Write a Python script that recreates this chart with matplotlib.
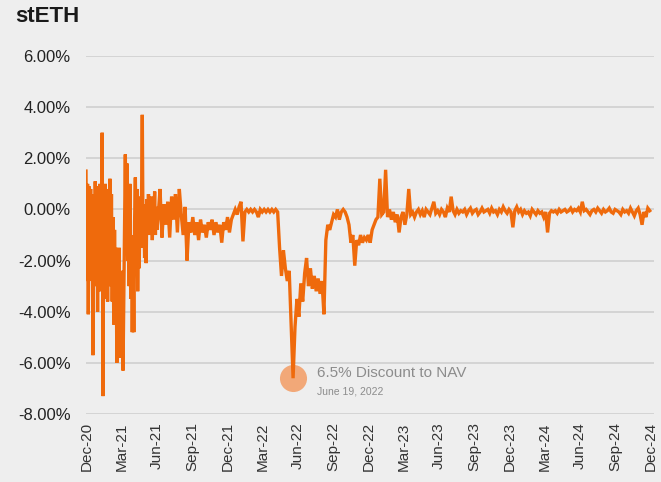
import numpy as np
import pandas as pd
import matplotlib
matplotlib.use("Agg")
import matplotlib.pyplot as plt

plt.rcParams['font.family'] = ['Liberation Sans', 'DejaVu Sans']

# stETH discount / premium to NAV (%)
# early period, every 2 days
early_start = "2020-12-28"
early_vals = [
    1.5, -2.8, 1.0, -4.1, 0.9, -1.5, 0.8, -2.8, 0.5, -5.7,
    0.6, -3.0, 1.1, -1.5, 0.4, -4.0, 0.9, -2.5, 1.0, -3.2,
    0.2, 3.0, -7.3, 0.2, -3.5, 1.0, -2.0, 0.3, -3.6, 0.8,
    -2.4, 1.2, -3.0, 0.6, -3.6, -0.3, -4.5, -0.8, -3.8, -1.5,
    -6.0, -2.0, -4.2, -1.5, -5.8, -2.5, -5.2, -2.4, -6.3, -3.5,
    -1.0, 2.15, -1.5, 1.8, -2.0, 0.5, -3.0, 1.0, -3.5, -1.0,
    -4.8, -1.5, -4.8, -0.5, 1.25, -2.0, 0.8, -3.2, -0.5, -2.3,
    0.5, -1.0, 0.3, 3.7, -1.5, 0.0, -1.9, 0.2, -2.1, 0.4,
    -0.6, 0.6, -1.0, 0.2, -0.7, 0.5, -1.2, 0.3, -0.5, 0.7,
    -1.0, 0.1, -0.8,
]

# rest of the period, every 5 days
late_start = "2021-07-03"
late_vals = [
    -0.3, 0.8, -1.1, 0.2, -0.6, 0.3, -1.1, 0.5, -0.4, 0.6,
    -0.9, 0.8, -0.2, -1.0, 0.1, -2.0, -0.5, -0.9, -0.3, -1.0,
    -0.5, -1.2, -0.4, -0.9, -0.6, -1.1, -0.5, -0.8, -0.4, -1.0,
    -0.5, -0.9, -0.6, -1.3, -0.5, -0.8, -0.3, -0.9, -0.4, -0.2,
    0.0, -0.2, 0.1, 0.3, -1.25, -0.1, 0.0, -0.1, 0.0, -0.1,
    0.0, -0.1, -0.3, 0.0, -0.1, 0.0, -0.1, 0.0, -0.1, 0.0,
    -0.1, 0.0, -0.1, -1.5, -2.6, -1.6, -2.3, -2.8, -2.4, -4.5,
    -6.6, -4.6, -3.5, -4.2, -2.9, -3.6, -2.5, -1.9, -3.0, -2.3,
    -3.1, -2.6, -3.2, -2.7, -3.3, -2.8, -4.1, -1.2, -0.6, -0.8,
    -0.5, -0.2, -0.3, 0.0, -0.4, -0.1, 0.0, -0.1, -0.3, -0.6,
    -1.3, -1.0, -2.2, -1.2, -1.4, -1.0, -1.3, -1.1, -1.2, -1.0,
    -1.3, -0.8, -0.6, -0.4, -0.3, 1.2, -0.2, -0.1, 1.55, -0.3,
    0.0, -0.4, -0.1, -0.5, -0.2, -0.9, -0.3, -0.1, -0.6, -0.2,
    0.8, -0.2, -0.1, -0.3, -0.1, 0.0, -0.2, -0.05, -0.3, 0.0,
    -0.1, -0.2, 0.05, 0.3, -0.15, -0.05, -0.2, 0.0, -0.1, -0.3,
    0.05, -0.1, 0.5, -0.05, -0.2, 0.0, -0.15, -0.05, -0.1, 0.0,
    -0.2, -0.05, 0.05, -0.15, -0.05, 0.0, -0.2, -0.1, 0.05, -0.1,
    -0.05, 0.0, -0.15, 0.05, -0.1, -0.05, -0.2, 0.0, -0.1, 0.1,
    -0.05, -0.15, 0.0, -0.1, -0.7, -0.05, 0.1, -0.1, 0.0, -0.2,
    -0.05, -0.15, -0.1, -0.25, 0.0, -0.1, -0.2, -0.05, -0.15, -0.1,
    -0.3, -0.1, -0.9, -0.15, -0.05, -0.1, -0.05, -0.15, 0.0, -0.1,
    -0.05, 0.0, -0.1, -0.05, 0.05, -0.1, 0.0, -0.05, 0.05, -0.1,
    0.3, -0.05, 0.0, -0.1, -0.2, -0.05, 0.0, -0.1, 0.05, -0.05,
    -0.15, 0.0, -0.1, -0.05, 0.05, -0.1, -0.15, 0.0, -0.05, -0.1,
    -0.2, 0.0, -0.1, -0.05, -0.15, 0.05, -0.1, -0.25, -0.05, 0.05,
    -0.2, -0.6, -0.1, -0.3, 0.05, -0.05,
]

yticks = [6, 4, 2, 0, -2, -4, -6, -8]
low_date = "2022-06-18"
low_val = -6.6
note_title = "6.5% Discount to NAV"
note_date = "June 19, 2022"

dates = np.concatenate([
    pd.date_range(early_start, periods=len(early_vals), freq="2D"),
    pd.date_range(late_start, periods=len(late_vals), freq="5D"),
])
vals = np.array(early_vals + late_vals)

bg = "#eeeeee"
orange = "#ef6a0c"

fig = plt.figure(figsize=(6.61, 4.82), dpi=100, facecolor=bg)
ax = fig.add_axes([86 / 661, 1 - 414 / 482, (654 - 86) / 661, (414 - 56) / 482])
ax.set_facecolor(bg)

ax.plot(dates, vals, color=orange, lw=2.4, zorder=3, solid_joinstyle="miter")

# highlight the low
ax.scatter([pd.Timestamp(low_date)], [low_val], s=380, color="#f2a878", zorder=2, lw=0)
ax.annotate(note_title, (pd.Timestamp(low_date), low_val), xytext=(17, 4),
            textcoords="offset points", fontsize=11, color="#8c8c8c", va="center")
ax.annotate(note_date, (pd.Timestamp(low_date), low_val), xytext=(17, -9.5),
            textcoords="offset points", fontsize=7.5, color="#8c8c8c", va="center")

ax.set_ylim(-8, 6)
ax.set_yticks(yticks)
ax.set_yticklabels([f"{v:.2f}%" for v in yticks], fontsize=12, color="#222222")
ax.yaxis.grid(True, color="#d2d2d2", lw=1.3)
ax.set_axisbelow(True)

ticks = pd.date_range("2020-12-31", "2024-12-31", freq="QE-DEC")
ax.set_xticks(ticks)
ax.set_xticklabels([t.strftime("%b-%y") for t in ticks], rotation=90,
                   fontsize=11, color="#333333", va="top", ha="center")
ax.set_xlim(pd.Timestamp("2020-12-28"), pd.Timestamp("2025-01-09"))

ax.tick_params(axis="both", length=0)
ax.tick_params(axis="y", pad=11)
ax.tick_params(axis="x", pad=6)
for s in ax.spines.values():
    s.set_visible(False)

fig.text(15 / 661, 1 - 17 / 482, "stETH", fontsize=16, fontweight="bold",
         color="#1a1a1a", va="center", ha="left")

fig.savefig("out.png", dpi=100, facecolor=bg)
